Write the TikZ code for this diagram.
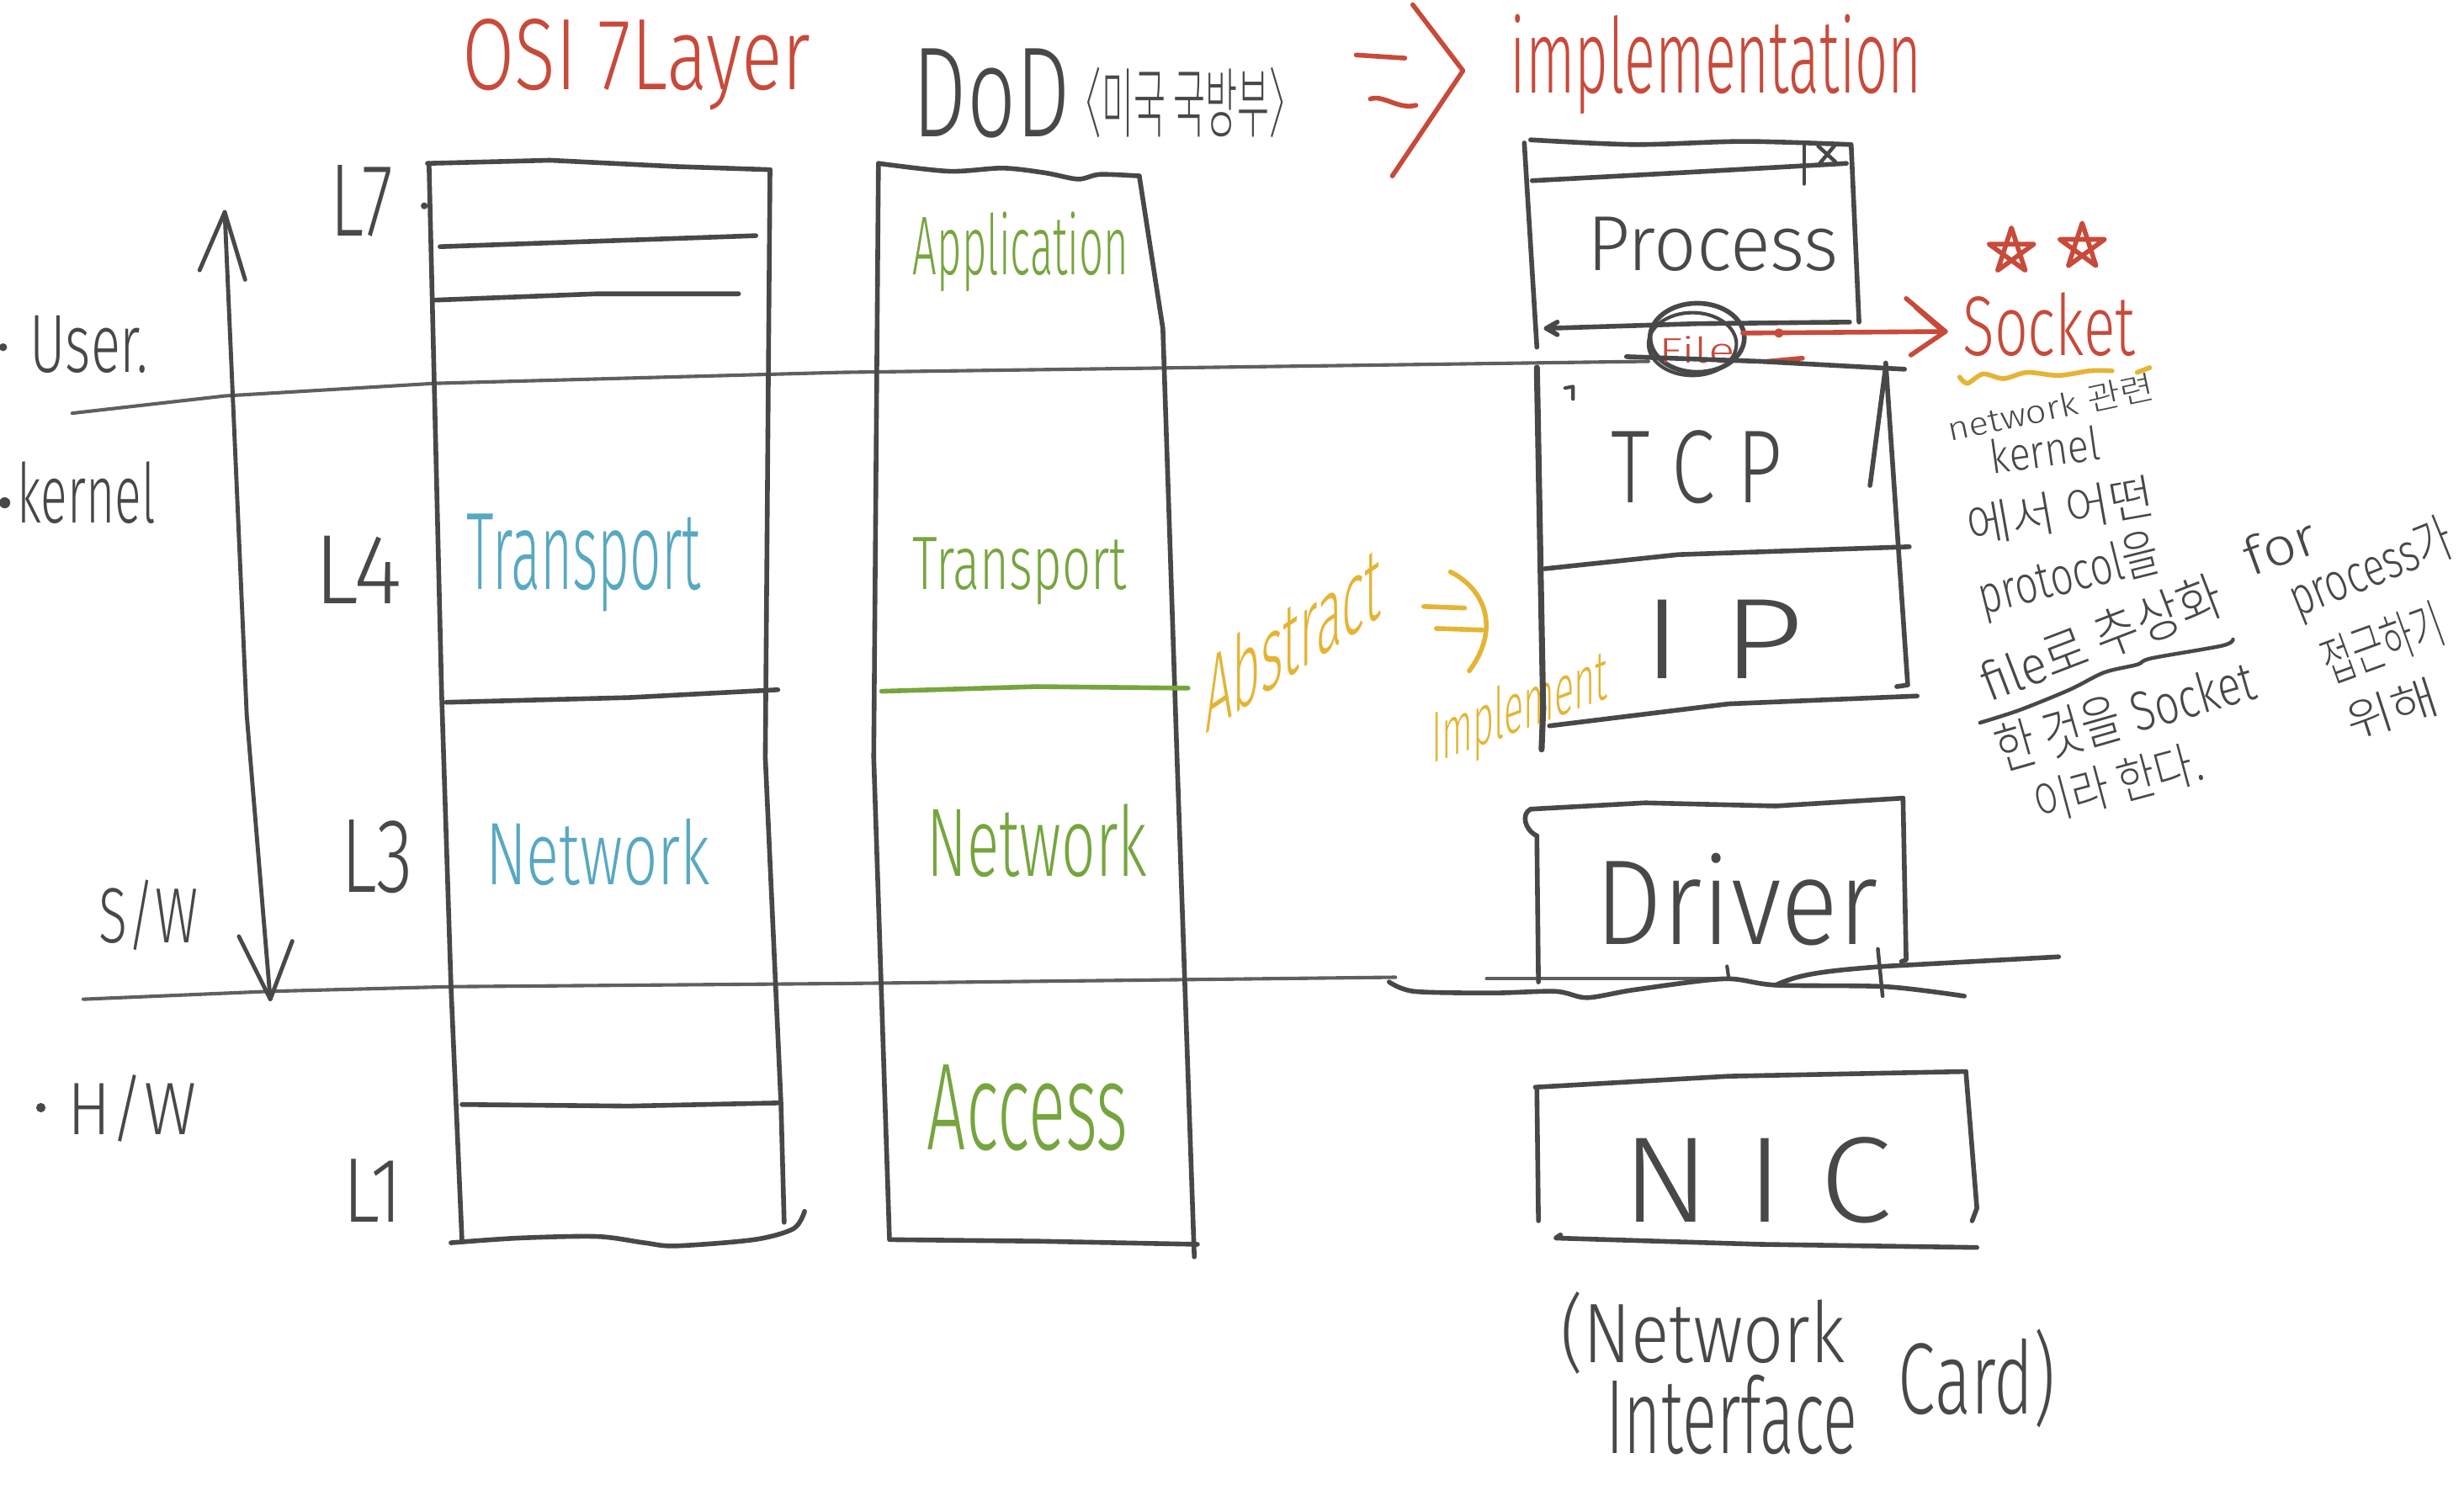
\documentclass[tikz,border=0pt]{standalone}
\usepackage{fontspec}
\usepackage{graphicx}
\IfFontExistsTF{Fira Sans Light}{\setmainfont{Fira Sans Light}}{\setmainfont{Liberation Sans}}
\IfFontExistsTF{Noto Sans CJK KR Light}{\newfontfamily\kr{Noto Sans CJK KR Light}}{\newfontfamily\kr{Noto Sans CJK KR}}
\definecolor{inkc}{RGB}{72,72,72}
\definecolor{linec}{RGB}{95,95,95}
\definecolor{hred}{RGB}{200,74,58}
\definecolor{hgreen}{RGB}{118,165,62}
\definecolor{hblue}{RGB}{88,168,194}
\definecolor{hyel}{RGB}{228,180,52}
\newcommand{\hw}[3]{\resizebox{#1pt}{#2pt}{#3}}
\begin{document}
\begin{tikzpicture}[x=1pt,y=-1pt,
  ink/.style={draw=inkc, line width=3pt, line cap=round, line join=round},
  longline/.style={draw=linec, line width=2.2pt, line cap=round, line join=round},
  redink/.style={draw=hred, line width=3pt, line cap=round, line join=round},
  yelink/.style={draw=hyel, line width=3pt, line cap=round, line join=round},
  txt/.style={inner sep=0pt, outer sep=0pt, anchor=base west},
  dotmark/.style={fill=inkc}]
\fill[white] (0,0) rectangle (1568,945);
\useasboundingbox (0,0) rectangle (1568,945);

% ---------------- titles ----------------
\node[txt, text=hred] (osi) at (294,57) {\hw{222}{45}{OSI 7Layer}};
\node[txt, text=inkc] (dod) at (581,87) {\hw{100}{56}{DoD}};
\node[txt, text=inkc] (dodkr) at (679,84) {\hw{151}{41}{\kr 〈미국 국방부〉}};
\node[txt, text=hred] (impl) at (961,59) {\hw{262}{50}{implementation}};
\coordinate (ra1) at (863,35); \coordinate (ra2) at (894,37);
\coordinate (ra3) at (872,63); \coordinate (ra4) at (901,67);
\coordinate (rb1) at (899,3); \coordinate (rb2) at (931,45); \coordinate (rb3) at (886,112);
\draw[redink] (ra1) -- (ra2);
\draw[redink] (ra3) .. controls (880,60) and (890,70) .. (ra4);
\draw[redink] (rb1) -- (rb2) -- (rb3);

% ---------------- left labels ----------------
\node[txt, text=inkc] (l7) at (210,150) {\hw{40}{45}{L7}};
\fill[dotmark] (270,131) circle (2.2);
\node[txt, text=inkc] (l4) at (200,384) {\hw{56}{43}{L4}};
\node[txt, text=inkc] (l3) at (217,568) {\hw{46}{46}{L3}};
\node[txt, text=inkc] (l1) at (218,778) {\hw{38}{40}{L1}};
\fill[dotmark] (2,221) circle (2.5);
\node[txt, text=inkc] (user) at (19,237) {\hw{75}{36}{User.}};
\fill[dotmark] (3,320) circle (3.5);
\node[txt, text=inkc] (kernel) at (11,333) {\hw{88}{39}{kernel}};
\node[txt, text=inkc] (sw) at (63,600) {\hw{63}{40}{S/W}};
\fill[dotmark] (26,705) circle (3);
\node[txt, text=inkc] (hw) at (43,722) {\hw{82}{38}{H/W}};

% ---------------- user/kernel and hw/sw lines ----------------
\coordinate (uk0) at (46,263); \coordinate (uk1) at (1049,230);
\draw[longline] (uk0) -- (143,252) -- (277,244) -- (536,237) -- (uk1);
\coordinate (hs0) at (53,636); \coordinate (hs1) at (888,622);
\draw[longline] (hs0) -- (171,631) -- (287,628) -- (536,626) -- (hs1);
\draw[longline] (946,623) -- (1097,623);

% vertical double arrow
\coordinate (va0) at (143,135); \coordinate (va1) at (172,636);
\draw[ink, line width=2.6pt] (va0) -- (157,455) -- (va1);
\draw[ink, line width=2.6pt] (127,172) -- (va0) -- (156,178);
\draw[ink, line width=2.6pt] (152,596) -- (va1) -- (186,599);

% ---------------- OSI column ----------------
\draw[ink] (272,104) -- (350,102) -- (430,106) -- (490,108);
\draw[ink] (273,104) -- (281,440) -- (287,628) -- (294,790);
\draw[ink] (490,108) -- (487,482) -- (497,703) -- (499,778);
\draw[ink] plot[smooth] coordinates {(287,791) (330,788) (380,787) (410,791) (430,793) (480,789) (505,782) (512,771)};
\draw[ink] (280,157) -- (481,150);
\draw[ink] (277,191) -- (380,187) -- (470,187);
\draw[ink] (284,447) -- (400,444) -- (495,439);
\draw[ink] (294,703) -- (400,704) -- (495,702);
\node[txt, text=hblue] (ositr) at (297,375) {\hw{149}{48}{Transport}};
\node[txt, text=hblue] (osinet) at (309,563) {\hw{143}{42}{Network}};

% ---------------- DoD column ----------------
\draw[ink] plot[smooth] coordinates {(559,104) (604,109) (638,107) (665,110) (686,114) (700,111) (725,112)};
\draw[ink] (559,104) -- (556,482) -- (566,788);
\draw[ink] (725,112) -- (740,209) -- (749,482) -- (760,800);
\draw[ink] (566,789) -- (660,790) -- (762,792);
\draw[draw=hgreen, line width=3pt, line cap=round] (561,440) -- (660,437) -- (756,438);
\node[txt, text=hgreen] (app) at (581,175) {\hw{137}{40}{Application}};
\node[txt, text=hgreen] (dodtr) at (581,375) {\hw{136}{33}{Transport}};
\node[txt, text=hgreen] (dodnet) at (590,558) {\hw{140}{46}{Network}};
\node[txt, text=hgreen] (access) at (590,732) {\hw{128}{54}{Access}};

% ---------------- Abstract / Implement ----------------
\node[txt, text=hyel, yslant=0.67] (abs) at (767,467) {\hw{112}{50}{Abstract}};
\node[txt, text=hyel, yslant=0.37] (imp) at (911,486) {\hw{112}{34}{Implement}};
\coordinate (ya1) at (906,386); \coordinate (ya2) at (932,387);
\coordinate (ya3) at (914,400); \coordinate (ya4) at (943,401);
\draw[yelink] (ya1) -- (ya2);
\draw[yelink] (ya3) -- (ya4);
\draw[yelink] (923,364) .. controls (945,375) and (955,400) .. (935,427);

% ---------------- Process box ----------------
\draw[ink] plot[smooth] coordinates {(974,89) (1040,92) (1110,90) (1177,92)};
\draw[ink] (970,91) -- (978,221);
\draw[ink] plot[smooth] coordinates {(975,115) (1068,110) (1175,104)};
\draw[ink] (1178,92) -- (1183,205);
\draw[ink, line width=2.4pt] (1148,92) -- (1148,117);
\draw[ink, line width=2.4pt] (1157,93) -- (1168,103) (1168,92) -- (1158,104);
\coordinate (pb0) at (1177,205); \coordinate (pb1) at (984,209);
\draw[ink] (pb0) -- (1080,206) -- (pb1);
\draw[ink] (991,205) -- (pb1) -- (991,213);
\node[txt, text=inkc] (proc) at (1010,172) {\hw{160}{34}{Process}};

% file circle and socket arrow
\draw[ink] (1080,215) ellipse [x radius=30, y radius=22];
\draw[ink, line width=2.2pt] (1077,219) ellipse [x radius=28, y radius=20];
\node[txt, text=hred] (file) at (1056,231) {\hw{48}{17}{File}};
\coordinate (fa0) at (1109,212); \coordinate (fa1) at (1238,211);
\draw[redink] (fa0) -- (fa1);
\draw[redink] (1213,190) -- (fa1) -- (1216,226);
\draw[redink, line width=2.2pt] (1219,196) -- (1236,211);
\fill[hred] (1132,212) circle (3);
\draw[redink] (1125,230) -- (1147,228);

% ---------------- TCP / IP box ----------------
\draw[ink] (1035,227) -- (1120,230) -- (1212,235);
\draw[ink, line width=3.8pt] (978,234) -- (982,451) -- (981,477);
\draw[ink, line width=2.2pt] (996,247) -- (1001,246) -- (1001,254);
\draw[ink] (1200,231) -- (1214,436) -- (1207,437);
\draw[ink] (1200,233) -- (1190,309);
\draw[ink] (983,362) -- (1068,353) -- (1215,348);
\draw[ink] (986,462) -- (1100,448) -- (1220,443);
\node[txt, text=inkc] (tcp) at (1025,320) {\hw{109}{46}{T C P}};
\node[txt, text=inkc] (ip) at (1045,432) {\hw{103}{50}{I P}};

% ---------------- Driver box ----------------
\draw[ink] (978,532) .. controls (970,528) and (968,518) .. (974,515) -- (1047,511) -- (1130,513) -- (1211,508);
\draw[ink] (978,532) -- (979,625);
\draw[ink] (1211,508) -- (1213,611) -- (1210,612);
\draw[ink] plot[smooth] coordinates {(884,625) (900,631) (950,632) (990,631) (1010,635) (1040,630) (1097,623) (1130,627) (1200,628) (1250,634)};
\draw[ink] (1130,627) .. controls (1145,620) and (1160,618) .. (1200,615) -- (1310,609);
\draw[ink, line width=2.4pt] (1195,604) -- (1198,634);
\draw[ink, line width=2.2pt] (1099,615) -- (1100,622);
\node[txt, text=inkc] (driver) at (1015,601) {\hw{180}{58}{Driver}};

% ---------------- NIC box ----------------
\draw[ink] (977,692) -- (1100,685) -- (1251,682);
\draw[ink] (978,693) -- (979,777);
\draw[ink] (1251,682) -- (1258,769) -- (1255,777);
\draw[ink] (993,786) -- (990,788) -- (1120,792) -- (1258,794);
\node[txt, text=inkc] (nic) at (1032,778) {\hw{172}{54}{N I C}};
\node[txt, text=inkc] (nic1) at (993,867) {\hw{181}{45}{(Network}};
\node[txt, text=inkc] (nic2) at (1022,925) {\hw{160}{50}{Interface}};
\node[txt, text=inkc] (nic3) at (1208,900) {\hw{100}{54}{Card)}};

% ---------------- Socket note ----------------
\draw[redink, shift={(1280,160)}] (-90:15) -- (54:15) -- (198:15) -- (342:15) -- (126:15) -- cycle;
\draw[redink, shift={(1325,157)}] (-90:15) -- (54:15) -- (198:15) -- (342:15) -- (126:15) -- cycle;
\node[txt, text=hred] (socket) at (1249,226) {\hw{110}{40}{Socket}};
\draw[yelink] plot[smooth] coordinates {(1247,240) (1252,244) (1262,238) (1275,241) (1290,237) (1310,239) (1330,236) (1344,236)};
\draw[yelink] (1360,237) -- (1368,234);

\node[txt, text=inkc, rotate=12] (n1) at (1241,281) {\hw{134}{17}{network {\kr 관련}}};
\node[txt, text=inkc, rotate=8] (n2) at (1268,302) {\hw{70}{22}{kernel}};
\node[txt, text=inkc, rotate=10] (n3) at (1254,347) {\hw{120}{25}{\kr 에서 어떤}};
\node[txt, text=inkc, rotate=14] (n4) at (1262,391) {\hw{118}{27}{protocol{\kr 을}}};
\node[txt, text=inkc, rotate=21] (n5) at (1266,447) {\hw{162}{28}{file{\kr 로 추상화}}};
\draw[ink, line width=2.4pt] plot[smooth] coordinates {(1260,460) (1285,452) (1317,439) (1339,428) (1360,423) (1369,419) (1414,411) (1421,407)};
\node[txt, text=inkc, rotate=16] (n6) at (1274,491) {\hw{170}{29}{{\kr 한 것을} Socket}};
\node[txt, text=inkc, rotate=15] (n7) at (1298,524) {\hw{110}{26}{\kr 이라 한다.}};
\node[txt, text=inkc, rotate=20] (n8) at (1433,367) {\hw{47}{25}{for}};
\node[txt, text=inkc, rotate=22] (n9) at (1462,393) {\hw{110}{28}{process{\kr 가}}};
\node[txt, text=inkc, rotate=20] (n10) at (1483,435) {\hw{80}{28}{\kr 접근하기}};
\node[txt, text=inkc, rotate=18] (n11) at (1497,471) {\hw{60}{24}{\kr 위해}};
\end{tikzpicture}
\end{document}
